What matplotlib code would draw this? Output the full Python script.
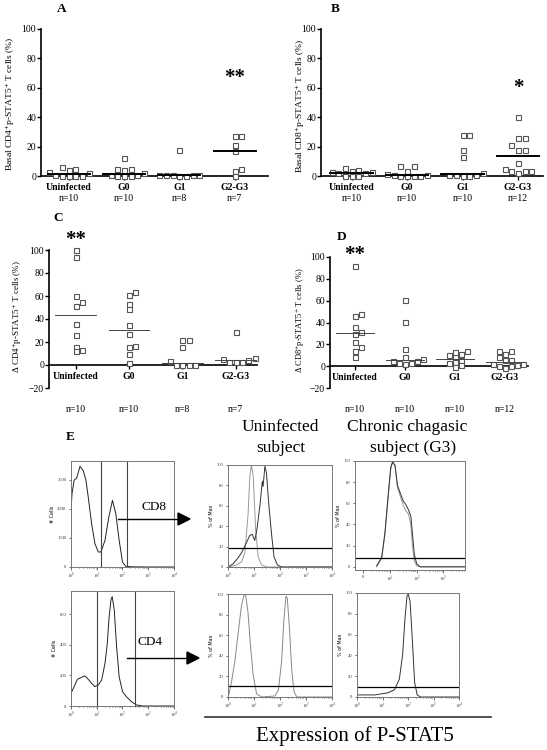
import matplotlib
matplotlib.use("Agg")
import matplotlib.pyplot as plt
from matplotlib.lines import Line2D

plt.rcParams["font.family"] = ["Liberation Serif", "DejaVu Serif"]
plt.rcParams["mathtext.fontset"] = "stix"

W, H = 547, 750

# ---- scatter panels (A-D) ----
groups = ["Uninfected", "G0", "G1", "G2-G3"]

a_vals = [
    [5, 4, 6, 3, 2, 1, 0, 0, 0, 0],
    [12, 5, 4, 4.5, 2, 1, 1, 0, 0, 0],
    [18, 1, 1, 0.5, 0, 0, 1, 0.5],
    [27, 27, 21, 17, 5, 3.5, 0],
]
a_n = ["n=10", "n=10", "n=8", "n=7"]

b_vals = [
    [5.5, 4, 3.5, 3, 2.5, 2, 2, 0, 0, 0],
    [6.5, 6.5, 3.5, 1.5, 1, 0.5, 0, 0, 0, 0],
    [28, 28, 18, 13, 1, 1, 2, 0, 0, 0.5],
    [40, 26, 26, 21, 18, 18, 9, 4.5, 3.4, 2.2, 3.4, 3.4],
]
b_n = ["n=10", "n=10", "n=10", "n=12"]

c_vals = [
    [100, 93.6, 60, 54.5, 51, 35.4, 26, 16, 12, 13],
    [63.7, 61, 53, 48.7, 34.8, 26.7, 15.4, 16.5, 10, 2],
    [21.5, 22, 15.4, 3.5, 0, 0, 0, 0],
    [28.4, 6.3, 3, 3, 5.5, 3, 4],
]
c_n = ["n=10", "n=10", "n=8", "n=7"]

d_vals = [
    [92, 48, 45.5, 36, 29.5, 31, 22, 17.7, 13.7, 8.6],
    [60.6, 40.3, 15.8, 8.2, 6.5, 4.5, 3, 2.2, 3, 5],
    [11, 8, 6, 13, 14, 10, 3.5, -1, 1, 2.5],
    [11.5, 14, 14, 8.5, 6, 6, 2, 1, 0, -2, 0.5, 2],
]
d_n = ["n=10", "n=10", "n=10", "n=12"]


def med(v):
    s = sorted(v)
    m = len(s) // 2
    return s[m] if len(s) % 2 else (s[m - 1] + s[m]) / 2


def swarm(vals, tol, step):
    order = sorted(range(len(vals)), key=lambda i: vals[i])
    placed = []
    xs = [0.0] * len(vals)
    for i in order:
        v = vals[i]
        k = 0
        pos = None
        while pos is None:
            cands = [0.0] if k == 0 else [k * step, -k * step]
            for c in cands:
                if all(abs(c - px) > step * 0.5 or abs(v - pv) >= tol
                       for px, pv in placed):
                    pos = c
                    break
            k += 1
        xs[i] = pos
        placed.append((pos, v))
    return xs


def box(x0, y0, x1, y1):
    return [x0 / W, 1 - y1 / H, (x1 - x0) / W, (y1 - y0) / H]


fig = plt.figure(figsize=(W / 100, H / 100), dpi=100)


def scatter_panel(rect, vals, ns, xlim, ylim, tol, thick, n_off,
                  ylabel, ylab_xy, fsize_lab):
    ax = fig.add_axes(rect)
    for i, v in enumerate(vals):
        offs = swarm(v, tol, 0.12)
        ax.plot([i + o for o in offs], v, "s", ms=3.6, mfc="white",
                mec="#555555", mew=0.8, clip_on=False, zorder=3)
        m = med(v)
        ax.plot([i - 0.38, i + 0.38], [m, m],
                color="black" if thick else "#444444",
                lw=1.4 if thick else 0.7, zorder=4)
        ax.annotate(groups[i], (i, 0), xytext=(0, -8), textcoords="offset points",
                    ha="center", va="center", fontsize=7, fontweight="bold")
        ax.annotate(ns[i], (i, 0), xytext=(0, -n_off), textcoords="offset points",
                    ha="center", va="center", fontsize=7)
    ax.set_xlim(*xlim)
    ax.set_ylim(*ylim)
    ax.spines["top"].set_visible(False)
    ax.spines["right"].set_visible(False)
    if ylim[0] < 0:
        ax.spines["bottom"].set_position(("data", 0))
    ax.spines["left"].set_linewidth(1.2)
    ax.spines["bottom"].set_linewidth(1.2)
    ax.set_xticks(range(4))
    ax.set_xticklabels([])
    ax.set_yticks(range(int(ylim[0]), 101, 20))
    ax.tick_params(axis="y", labelsize=7, length=3, width=1, pad=0.5)
    ax.tick_params(axis="x", length=3, width=1)
    ax.patch.set_visible(False)
    fig.text(ylab_xy[0] / W, 1 - ylab_xy[1] / H, ylabel, rotation=90,
             ha="center", va="center", fontsize=fsize_lab)
    return ax


axA = scatter_panel(box(41, 29, 268, 176), a_vals, a_n, (-0.5, 3.6), (0, 100),
                    3.5, True, 16, "Basal CD4$^{+}$p-STAT5$^{+}$ T cells (%)",
                    (10, 104), 6.8)
axB = scatter_panel(box(321, 29, 543, 176), b_vals, b_n, (-0.55, 3.45), (0, 100),
                    3.5, True, 16, "Basal CD8$^{+}$p-STAT5$^{+}$ T cells (%)",
                    (300, 106), 6.8)
axC = scatter_panel(box(49, 250, 257, 388), c_vals, c_n, (-0.5, 3.4), (-20, 100),
                    4.0, False, 32, "Δ CD4$^{+}$p-STAT5$^{+}$ T cells (%)",
                    (17, 316), 6.5)
axD = scatter_panel(box(330, 257, 528, 388), d_vals, d_n, (-0.5, 3.46), (-20, 100),
                    4.5, False, 31, "Δ CD8$^{+}$p-STAT5$^{+}$ T cells (%)",
                    (300, 320), 6)

axA.text(3, 67, "**", ha="center", va="center", fontsize=15, fontweight="bold")
axB.text(3, 60, "*", ha="center", va="center", fontsize=15, fontweight="bold")
axC.text(0, 109, "**", ha="center", va="center", fontsize=15, fontweight="bold",
         clip_on=False)
axD.text(0, 102, "**", ha="center", va="center", fontsize=15, fontweight="bold",
         clip_on=False)

for letter, (lx, ly) in {"A": (62, 9), "B": (335, 9), "C": (58, 218),
                         "D": (342, 237), "E": (70, 437)}.items():
    fig.text(lx / W, 1 - ly / H, letter, ha="center", va="center",
             fontsize=9.5, fontweight="bold")

# ---- flow cytometry histograms (E) ----
cd8_x = [0.0, 0.04, 0.12, 0.22, 0.35, 0.48, 0.58, 0.67, 0.8, 0.93, 1.06, 1.16,
         1.32, 1.47, 1.61, 1.74, 1.87, 2.0, 2.13, 2.4, 3.0, 4.0]
cd8_y = [1950, 2520, 2980, 3050, 3460, 3300, 2980, 2400, 1490, 800, 515, 515,
         916, 1720, 2290, 1830, 916, 170, 20, 5, 0, 0]

cd4_x = [0.0, 0.12, 0.25, 0.41, 0.54, 0.67, 0.8, 0.93, 1.06, 1.19, 1.32, 1.41,
         1.47, 1.55, 1.6, 1.68, 1.77, 1.87, 2.0, 2.15, 2.35, 2.54, 2.8, 4.0]
cd4_y = [83, 127, 175, 188, 197, 175, 148, 127, 138, 170, 280, 410, 563, 694,
         716, 629, 389, 192, 94, 61, 28, 7, 0, 0]

u8_gray_x = [0.06, 0.32, 0.52, 0.65, 0.77, 0.84, 0.9, 0.97, 1.06, 1.16, 1.29, 1.48, 4.0]
u8_gray_y = [0, 2, 5, 14, 51, 89, 100, 89, 38, 10, 2, 0, 0]
u8_black_x = [0.0, 0.19, 0.39, 0.52, 0.71, 0.84, 0.93, 1.03, 1.12, 1.23, 1.32,
              1.35, 1.42, 1.48, 1.57, 1.68, 1.77, 1.9, 2.06, 4.0]
u8_black_y = [0, 3, 9, 14, 24, 31, 32, 26, 38, 61, 84, 79, 99, 92, 61, 31, 10,
              2, 0, 0]

u4_x = [0.04, 0.13, 0.26, 0.39, 0.52, 0.62, 0.68, 0.77, 0.86, 0.97, 1.1, 1.29,
        1.81, 1.94, 2.06, 2.15, 2.23, 2.28, 2.36, 2.45, 2.54, 2.65, 4.0]
u4_y = [3, 14, 34, 62, 89, 99, 99, 82, 51, 21, 3, 0,
        1, 7, 34, 75, 98, 96, 68, 27, 5, 0, 0]

c8_black_x = [0.5, 0.69, 0.81, 0.94, 1.03, 1.1, 1.19, 1.28, 1.38, 1.5, 1.59,
              1.69, 1.78, 1.84, 1.91, 2.0, 2.13, 3.8]
c8_black_y = [1, 9, 32, 70, 94, 99, 96, 77, 70, 62, 59, 54, 48, 32, 12, 3, 0, 0]
c8_gray_x = [0.5, 0.69, 0.81, 0.94, 1.03, 1.1, 1.19, 1.28, 1.38, 1.5, 1.59,
             1.69, 1.78, 1.84, 1.91, 2.0, 2.13, 3.8]
c8_gray_y = [0, 8, 30, 68, 93, 100, 95, 75, 67, 58, 53, 50, 40, 20, 6, 1, 0, 0]

c4_x = [0.0, 0.7, 1.21, 1.47, 1.66, 1.79, 1.88, 1.96, 2.01, 2.08, 2.17, 2.26,
        2.36, 2.49, 4.0]
c4_y = [2, 2, 4, 7, 17, 41, 75, 97, 99, 92, 55, 14, 2, 0, 0]

bars = {"u8": 19, "u4": 11, "c8": 8, "c4": 10}

decades = [0, 1, 2, 3, 4]
dec_labels = ["$10^0$", "$10^1$", "$10^2$", "$10^3$", "$10^4$"]
frame_c = "#777777"


def hist_axes(rect, xlim, ylim, yticks, ylabel, xt=decades, xtl=dec_labels):
    ax = fig.add_axes(rect)
    ax.set_xlim(*xlim)
    ax.set_ylim(*ylim)
    for s in ax.spines.values():
        s.set_color(frame_c)
        s.set_linewidth(0.7)
    ax.set_xticks(xt)
    ax.set_xticklabels(xtl)
    minors = [d + m for d in range(0, 4) for m in (0.301, 0.477, 0.602, 0.699,
                                                   0.778, 0.845, 0.903, 0.954)]
    ax.set_xticks([m for m in minors if xlim[0] <= m <= xlim[1]], minor=True)
    ax.set_yticks(yticks)
    ax.tick_params(labelsize=3.3, length=1.8, width=0.5, pad=1.5,
                   colors="#333333")
    ax.tick_params(which="minor", length=1.0, width=0.4)
    ax.set_ylabel(ylabel, fontsize=3.5, labelpad=2, family="DejaVu Sans")
    return ax


ax = hist_axes(box(71, 461, 174, 567), (0, 4), (0, 3640), [0, 1000, 2000, 3000], "# Cells")
ax.plot(cd8_x, cd8_y, color="#222222", lw=0.7)
ax.axvline(1.16, color="#444444", lw=0.8)
ax.axvline(2.17, color="#444444", lw=0.8)

ax = hist_axes(box(71, 591, 174, 706), (0, 4), (0, 753), [0, 200, 400, 600], "# Cells")
ax.plot(cd4_x, cd4_y, color="#222222", lw=0.7)
ax.axvline(1.0, color="#444444", lw=0.8)
ax.axvline(2.5, color="#444444", lw=0.8)

pct = [0, 20, 40, 60, 80, 100]
ax = hist_axes(box(228, 465, 332, 567), (0, 4), (0, 100), pct, "% of Max")
ax.plot(u8_gray_x, u8_gray_y, color="#999999", lw=0.7)
ax.plot(u8_black_x, u8_black_y, color="#333333", lw=0.7)
ax.axhline(bars["u8"], color="black", lw=0.9)

ax = hist_axes(box(228, 594, 332, 697), (0, 4), (0, 100), pct, "% of Max")
ax.plot(u4_x, u4_y, color="#888888", lw=0.7)
ax.axhline(bars["u4"], color="black", lw=0.9)

ax = hist_axes(box(355, 461, 465, 570), (-0.31, 3.81), (-3, 100), pct, "% of Max",
               xt=[0, 1, 2, 3], xtl=["0", "$10^1$", "$10^2$", "$10^3$"])
ax.plot(c8_gray_x, c8_gray_y, color="#999999", lw=0.7)
ax.plot(c8_black_x, c8_black_y, color="#333333", lw=0.7)
ax.axhline(bars["c8"], color="black", lw=0.9)

ax = hist_axes(box(357, 593, 459, 697), (0, 4), (0, 100), pct, "% of Max")
ax.plot(c4_x, c4_y, color="#333333", lw=0.7)
ax.axhline(bars["c4"], color="black", lw=0.9)


def fx(x):
    return x / W


def fy(y):
    return 1 - y / H


for (x0, x1, y), lab, (tx, ty) in [((118, 190, 519), "CD8", (154, 507)),
                                   ((127, 199, 658), "CD4", (150, 642))]:
    fig.add_artist(plt.Line2D([fx(x0), fx(x1 - 10)], [fy(y), fy(y)],
                              color="black", lw=1.0))
    fig.add_artist(plt.Polygon([[fx(x1 - 12), fy(y - 6)], [fx(x1 - 12), fy(y + 6)],
                                [fx(x1), fy(y)]], closed=True, color="black"))
    fig.text(fx(tx), fy(ty), lab, ha="center", va="center", fontsize=9.5)

fig.text(fx(280), fy(427), "Uninfected", ha="center", va="center", fontsize=12.5)
fig.text(fx(281), fy(448), "subject", ha="center", va="center", fontsize=12.5)
fig.text(fx(407), fy(427), "Chronic chagasic", ha="center", va="center", fontsize=12.5)
fig.text(fx(413), fy(448), "subject (G3)", ha="center", va="center", fontsize=12.5)

fig.add_artist(Line2D([fx(205), fx(491)], [fy(717), fy(717)], color="#333333", lw=1.2))
fig.text(fx(355), fy(736), "Expression of P-STAT5", ha="center", va="center",
         fontsize=15)

fig.savefig("out.png", dpi=100)
